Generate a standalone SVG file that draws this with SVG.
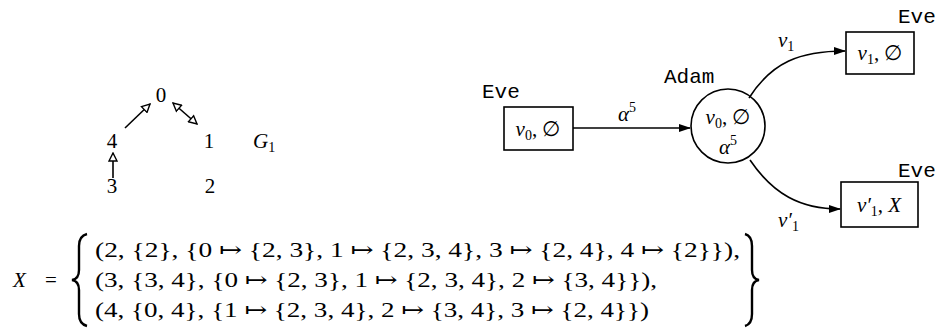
<svg xmlns="http://www.w3.org/2000/svg" width="938" height="336" viewBox="0 0 938 336">
<style>
.m{font-family:"Liberation Serif","DejaVu Serif",serif;font-size:21px;fill:#000}
.i{font-style:italic}
.s{font-size:14px}
.tt{font-family:"Liberation Mono","DejaVu Sans Mono",monospace;font-size:21px;fill:#000}
.e{fill:none;stroke:#000;stroke-width:1.6}
.box{fill:#fff;stroke:#000;stroke-width:1.6}
</style>
<defs>
<marker id="open" viewBox="0 0 10 10" refX="9" refY="5" markerWidth="10" markerHeight="10" markerUnits="userSpaceOnUse" orient="auto-start-reverse">
<path d="M1,1 L9,5 L1,9 Z" fill="#fff" stroke="#000" stroke-width="1.4"/>
</marker>
<marker id="fill" viewBox="0 0 12 10" refX="11" refY="5" markerWidth="12" markerHeight="10" markerUnits="userSpaceOnUse" orient="auto">
<path d="M0,1 L12,5 L0,9 Z" fill="#000"/>
</marker>
</defs>
<g id="g1-nodes">
<g id="n0"><text class="m" x="161" y="102" text-anchor="middle">0</text></g>
<g id="n4"><text class="m" x="112" y="148" text-anchor="middle">4</text></g>
<g id="n1"><text class="m" x="209" y="148" text-anchor="middle">1</text></g>
<g id="n3"><text class="m" x="112" y="193" text-anchor="middle">3</text></g>
<g id="n2"><text class="m" x="210" y="193" text-anchor="middle">2</text></g>
<g id="g1label"><text class="m" x="253" y="148"><tspan class="i">G</tspan><tspan class="s" dy="4">1</tspan></text></g>
</g>
<g id="game-nodes">
<g id="eve0"><text class="tt" x="482" y="98">Eve</text><rect class="box" x="504" y="107" width="69" height="43"/><text class="m" x="538" y="136" text-anchor="middle"><tspan class="i">v</tspan><tspan class="s" dy="4">0</tspan><tspan dy="-4">, ∅</tspan></text></g>
<g id="adam"><text class="tt" x="664" y="83">Adam</text><circle class="box" cx="728" cy="126" r="37"/><text class="m" x="728" y="124" text-anchor="middle"><tspan class="i">v</tspan><tspan class="s" dy="4">0</tspan><tspan dy="-4">, ∅</tspan></text><text class="m" x="728" y="154" text-anchor="middle"><tspan class="i">α</tspan><tspan class="s" dy="-9">5</tspan></text></g>
<g id="eve1"><text class="tt" x="898" y="23">Eve</text><rect class="box" x="846" y="32" width="68" height="42"/><text class="m" x="880" y="60" text-anchor="middle"><tspan class="i">v</tspan><tspan class="s" dy="4">1</tspan><tspan dy="-4">, ∅</tspan></text></g>
<g id="eve2"><text class="tt" x="898" y="177">Eve</text><rect class="box" x="841" y="182" width="77" height="45"/><text class="m" x="879" y="212" text-anchor="middle"><tspan class="i">v′</tspan><tspan class="s" dy="4">1</tspan><tspan dy="-4">, </tspan><tspan class="i">X</tspan></text></g>
</g>
<g id="connectors">
<line class="e" x1="125" y1="128" x2="150" y2="104" marker-end="url(#open)"/>
<line class="e" x1="173" y1="103" x2="197" y2="124" marker-start="url(#open)" marker-end="url(#open)"/>
<line class="e" x1="113" y1="178" x2="113" y2="153" marker-end="url(#open)"/>
<line class="e" x1="573" y1="128" x2="690" y2="128" marker-end="url(#fill)"/>
<path class="e" d="M749,98 C772,62 800,51 845,51" marker-end="url(#fill)"/>
<path class="e" d="M750,160 C773,194 800,209 840,209" marker-end="url(#fill)"/>
<text class="m" x="618" y="121"><tspan class="i">α</tspan><tspan class="s" dy="-9">5</tspan></text>
<text class="m" x="778" y="47"><tspan class="i">v</tspan><tspan class="s" dy="4">1</tspan></text>
<text class="m" x="778" y="227"><tspan class="i">v′</tspan><tspan class="s" dy="4">1</tspan></text>
</g>
<g id="formula">
<text class="m i" x="13" y="287">X</text>
<text class="m" x="45" y="287">=</text>
<path d="M87,234 Q79,236 79,246 L79,270 Q79,279 72,280 Q79,281 79,290 L79,314 Q79,324 87,326" fill="none" stroke="#000" stroke-width="2.4"/>
<path d="M745,234 Q752,236 752,246 L752,270 Q752,279 759,280 Q752,281 752,290 L752,314 Q752,324 745,326" fill="none" stroke="#000" stroke-width="2.4"/>
<text class="m" x="95" y="257" textLength="645" lengthAdjust="spacingAndGlyphs">(2, {2}, {0 ↦ {2, 3}, 1 ↦ {2, 3, 4}, 3 ↦ {2, 4}, 4 ↦ {2}}),</text>
<text class="m" x="95" y="287" textLength="562" lengthAdjust="spacingAndGlyphs">(3, {3, 4}, {0 ↦ {2, 3}, 1 ↦ {2, 3, 4}, 2 ↦ {3, 4}}),</text>
<text class="m" x="95" y="317" textLength="554" lengthAdjust="spacingAndGlyphs">(4, {0, 4}, {1 ↦ {2, 3, 4}, 2 ↦ {3, 4}, 3 ↦ {2, 4}})</text>
</g>
</svg>
